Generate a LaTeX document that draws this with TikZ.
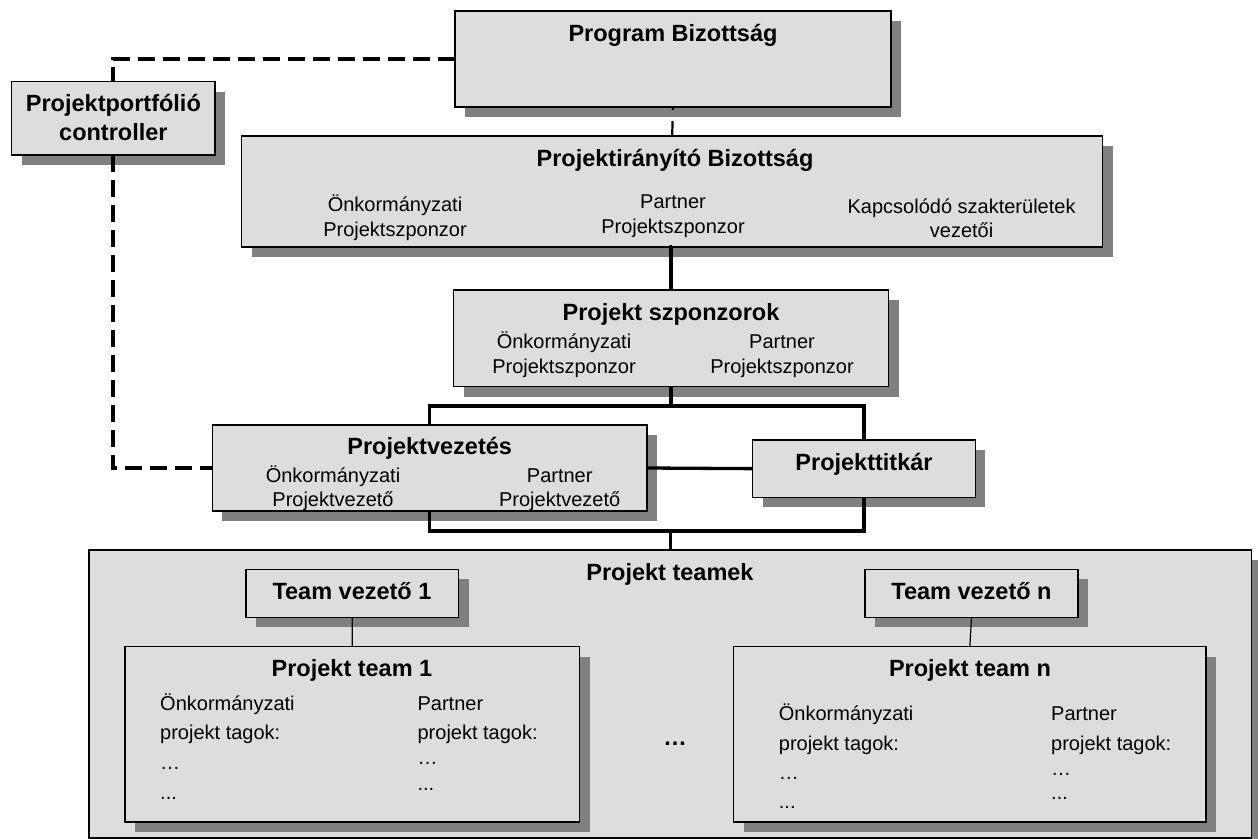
\documentclass[tikz,border=0pt]{standalone}
\usepackage{fontspec}
\setmainfont{Liberation Sans}
\usetikzlibrary{shadows}
\definecolor{boxgray}{HTML}{DDDDDD}
\definecolor{shadowgray}{HTML}{808080}
\newcommand\mytitle{\fontsize{23.5bp}{28bp}\selectfont\bfseries}
\newcommand\mytext{\fontsize{20bp}{26bp}\selectfont}
\begin{document}
\begin{tikzpicture}[x=1bp,y=-1bp,
  box/.style={draw=black, line width=1.3bp, fill=boxgray, anchor=north west, inner sep=0pt, outer sep=0pt,
    drop shadow={shadow xshift=10bp, shadow yshift=-10bp, fill=shadowgray, opacity=1, draw=none}},
  tt/.style={font=\mytitle, inner sep=0pt, anchor=base},
  tx/.style={font=\mytext, inner sep=0pt, anchor=base},
  txl/.style={font=\mytext, inner sep=0pt, anchor=base west},
  conn/.style={line width=3.3bp},
  thinconn/.style={line width=1.2bp},
  dashline/.style={line width=4bp, dash pattern=on 17bp off 8bp},
  shortdash/.style={line width=2.2bp, dash pattern=on 3bp off 11bp on 20bp off 0bp}]
\useasboundingbox (0,0) rectangle (1258,839);

% boxes
\node[box, minimum width=436bp, minimum height=96bp] (pb) at (455,11) {};
\node[box, minimum width=203.3bp, minimum height=73.3bp] (ppc) at (11.7,81.7) {};
\node[box, minimum width=860.9bp, minimum height=111bp] (pib) at (241.7,136) {};
\node[box, minimum width=435.1bp, minimum height=96.7bp] (psz) at (453.5,290) {};
\node[box, minimum width=434.6bp, minimum height=86bp] (pv) at (212.4,425) {};
\node[box, minimum width=222.6bp, minimum height=57.3bp] (pt) at (752.7,440) {};
\node[box, minimum width=1162.7bp, minimum height=288bp] (teamek) at (89,550) {};
\node[box, minimum width=212.5bp, minimum height=48bp] (tv1) at (246,569.3) {};
\node[box, minimum width=213bp, minimum height=48bp] (tvn) at (865,569.3) {};
\node[box, minimum width=454.5bp, minimum height=175.3bp] (t1) at (125,646.7) {};
\node[box, minimum width=472.3bp, minimum height=175.3bp] (tn) at (733.7,646.7) {};

% connectors
\coordinate (tb) at (0,406);
\coordinate (bb) at (0,531);
\draw[shortdash] (pb.south) -- (pib.north);
\draw[conn] (pib.south) -- (psz.south |- pib.south) -- (psz.north);
\draw[conn] (psz.south) -- (psz.south |- tb);
\draw[conn] (pv.north) -- (pv.north |- tb) -- (pt.north |- tb) -- (pt.north);
\draw[conn] (pv.east) -- (pt.west);
\draw[conn] (pv.south) -- (pv.south |- bb) -- (pt.south |- bb) -- (pt.south);
\draw[conn] (teamek.north |- bb) -- (teamek.north);
\draw[dashline] (pb.west) -| (ppc.north);
\draw[dashline] (ppc.south) |- (pv.west);
\draw[thinconn] (tv1.south) -- (t1.north);
\draw[thinconn] (tvn.south) -- (tn.north);

% texts
\node[tt] (pbt) at (673,41) {Program Bizottság};
\node[tt] (ppct1) at (113.4,111.7) {Projektportfólió};
\node[tt] (ppct2) at (113.4,140) {controller};
\node[tt] (pibt) at (675,166) {Projektirányító Bizottság};
\node[tx] (pib1a) at (395,211.7) {Önkormányzati};
\node[tx] (pib1b) at (395,236.7) {Projektszponzor};
\node[tx] (pib2a) at (673,208) {Partner};
\node[tx] (pib2b) at (673,233) {Projektszponzor};
\node[tx] (pib3a) at (961.6,213) {Kapcsolódó szakterületek};
\node[tx] (pib3b) at (961.6,237.7) {vezetői};
\node[tt] (pszt) at (671,320) {Projekt szponzorok};
\node[tx] (psz1a) at (564,348.3) {Önkormányzati};
\node[tx] (psz1b) at (564,373.3) {Projektszponzor};
\node[tx] (psz2a) at (782,348.3) {Partner};
\node[tx] (psz2b) at (782,373.3) {Projektszponzor};
\node[tt] (pvt) at (429.7,454.3) {Projektvezetés};
\node[tx] (pv1a) at (333,482.7) {Önkormányzati};
\node[tx] (pv1b) at (333,506.7) {Projektvezető};
\node[tx] (pv2a) at (559.7,482.7) {Partner};
\node[tx] (pv2b) at (559.7,506.7) {Projektvezető};
\node[tt] (ptt) at (864,470) {Projekttitkár};
\node[tt] (teamekt) at (670,580) {Projekt teamek};
\node[tt] (tv1t) at (352,599.3) {Team vezető 1};
\node[tt] (tvnt) at (971.5,599.3) {Team vezető n};
\node[tt] (t1t) at (352,676) {Projekt team 1};
\node[tt] (tnt) at (970,676) {Projekt team n};
\node[txl] (t1l1) at (160,710.7) {Önkormányzati};
\node[txl] (t1l2) at (160,739.3) {projekt tagok:};
\node[txl] (t1l3) at (160,769.3) {…};
\node[txl] (t1l4) at (160,799.3) {...};
\node[txl] (t1r1) at (417.4,710.7) {Partner};
\node[txl] (t1r2) at (417.4,739.3) {projekt tagok:};
\node[txl] (t1r3) at (417.4,764.3) {…};
\node[txl] (t1r4) at (417.4,790) {...};
\node[txl] (tnl1) at (778.7,720) {Önkormányzati};
\node[txl] (tnl2) at (778.7,750) {projekt tagok:};
\node[txl] (tnl3) at (778.7,779.3) {…};
\node[txl] (tnl4) at (778.7,808.3) {...};
\node[txl] (tnr1) at (1051,720) {Partner};
\node[txl] (tnr2) at (1051,750) {projekt tagok:};
\node[txl] (tnr3) at (1051,775) {…};
\node[txl] (tnr4) at (1051,799.3) {...};
\node[tt] (middots) at (675,745) {…};
\end{tikzpicture}
\end{document}
